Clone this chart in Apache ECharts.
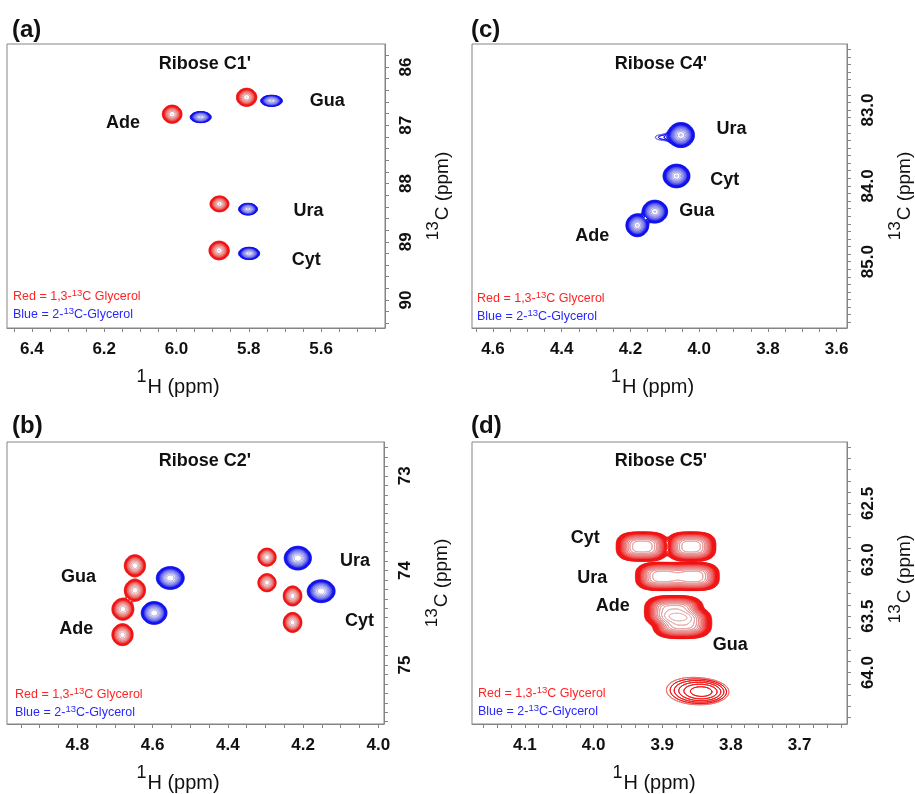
<!DOCTYPE html>
<html><head><meta charset="utf-8">
<script src="https://cdn.jsdelivr.net/npm/echarts@6/dist/echarts.min.js"></script>
<style>html,body{margin:0;padding:0;background:#fff}#chart{width:915px;height:794px}</style>
</head><body><div id="chart"></div>
<script>
// ================= DATA (chemical shifts in ppm) =================
// ---- Panel (a): Ribose C1' ----
const aBaseLabels = ['Ade', 'Gua', 'Ura', 'Cyt'];
const aLabelH = [6.148, 5.583, 5.635, 5.641];
const aLabelC = [86.96, 86.58, 88.47, 89.31];
const aRedH   = [6.012, 5.806, 5.881, 5.882];
const aRedC   = [86.81, 86.52, 88.35, 89.15];
const aRedWH  = [0.054, 0.056, 0.052, 0.056];   // outer-contour width, 1H ppm
const aRedWC  = [0.31, 0.31, 0.27, 0.32];       // outer-contour width, 13C ppm
const aBlueH  = [5.933, 5.737, 5.802, 5.799];
const aBlueC  = [86.86, 86.58, 88.44, 89.20];
const aBlueWH = [0.058, 0.060, 0.052, 0.058];
const aBlueWC = [0.19, 0.19, 0.20, 0.21];
const aXTicks = [6.4, 6.2, 6.0, 5.8, 5.6];
const aYTicks = [86, 87, 88, 89, 90];

// ---- Panel (b): Ribose C2' ----
const bBaseLabels = ['Gua', 'Ade', 'Ura', 'Cyt'];
const bLabelH = [4.797, 4.803, 4.062, 4.050];
const bLabelC = [74.07, 74.62, 73.90, 74.53];
const bRedH   = [4.647, 4.647, 4.679, 4.680, 4.296, 4.296, 4.228, 4.228];
const bRedC   = [73.95, 74.21, 74.41, 74.68, 73.86, 74.13, 74.27, 74.55];
const bRedWH  = [0.056, 0.056, 0.058, 0.056, 0.048, 0.048, 0.049, 0.049];
const bRedWC  = [0.23, 0.23, 0.23, 0.23, 0.19, 0.19, 0.21, 0.21];
const bBlueH  = [4.553, 4.596, 4.214, 4.152];
const bBlueC  = [74.08, 74.45, 73.87, 74.22];
const bBlueWH = [0.074, 0.068, 0.072, 0.074];
const bBlueWC = [0.24, 0.24, 0.25, 0.24];
const bXTicks = [4.8, 4.6, 4.4, 4.2, 4.0];
const bYTicks = [73, 74, 75];

// ---- Panel (c): Ribose C4' ----
const cBaseLabels = ['Ura', 'Cyt', 'Gua', 'Ade'];
const cLabelH = [3.906, 3.926, 4.007, 4.311];
const cLabelC = [83.25, 83.92, 84.33, 84.66];
const cBlueH  = [4.053, 4.066, 4.129, 4.180, 4.100];
const cBlueC  = [83.33, 83.87, 84.34, 84.52, 83.36];
const cBlueWH = [0.078, 0.078, 0.074, 0.066, 0.055];
const cBlueWC = [0.33, 0.31, 0.30, 0.30, 0.08];
const cBlueAmp = [40, 40, 40, 40, 1.6];
const cXTicks = [4.6, 4.4, 4.2, 4.0, 3.8, 3.6];
const cYTicks = [83.0, 84.0, 85.0];

// ---- Panel (d): Ribose C5' ----
const dBaseLabels = ['Cyt', 'Ura', 'Ade', 'Gua'];
const dLabelH = [4.012, 4.002, 3.972, 3.801];
const dLabelC = [62.806, 63.162, 63.413, 63.757];
const dRedH   = [3.929, 3.858, 3.899, 3.855, 3.883, 3.871, 3.838, 3.866];
const dRedC   = [62.883, 62.883, 63.148, 63.148, 63.457, 63.559, 64.172, 64.150];
const dRedWH  = [0.076, 0.072, 0.080, 0.076, 0.086, 0.086, 0.068, 0.050];
const dRedWC  = [0.26, 0.26, 0.25, 0.25, 0.28, 0.28, 0.20, 0.17];
const dRedAmp = [110, 110, 110, 110, 110, 110, 3.6, 1.6];
const dRedShape = [3, 3, 3, 3, 3, 3, 2, 2];     // peak-shape exponent (2 = Gaussian)
const dXTicks = [4.1, 4.0, 3.9, 3.8, 3.7];
const dYTicks = [62.5, 63.0, 63.5, 64.0];

const panelTitles = ["Ribose C1'", "Ribose C4'", "Ribose C2'", "Ribose C5'"];
const panelLetters = ['(a)', '(c)', '(b)', '(d)'];

// ================= STYLE / LAYOUT =================
const FONT = "'Liberation Sans', Arial, Helvetica, sans-serif";
const RED = '#f01414', RED_LIGHT = '#e4cccc';
const BLUE = '#1212ee', BLUE_LIGHT = '#cfcfe8';
const AXIS_GREY = '#858585';
const TXT = '#111111';
const LEVEL0 = 1, LEVEL_F = 1.3, N_LEVELS = 22;

const panels = [
  { key:'a', grid:{left:7,   top:44,  width:378, height:284}, x:[5.423, 6.469], y:[85.605, 90.48],
    xMinor:0.05, yMinor:0.2, xTicks:aXTicks, yTicks:aYTicks, xDec:1, yDec:0, shapeP:2,
    title:[205, 64], letter:[12, 18], legend:[13, 296], xNamePad:36, yNamePad:[0,20,0,0] },
  { key:'c', grid:{left:472, top:44,  width:377, height:284}, x:[3.570, 4.661], y:[82.129, 85.875],
    xMinor:0.05, yMinor:0.1, xTicks:cXTicks, yTicks:cYTicks, xDec:1, yDec:1, shapeP:2,
    title:[661, 64], letter:[471, 18], legend:[477, 298], xNamePad:14, yNamePad:[0,20,0,0] },
  { key:'b', grid:{left:7,   top:442, width:377, height:283}, x:[3.985, 4.987], y:[72.642, 75.624],
    xMinor:0.05, yMinor:0.1, xTicks:bXTicks, yTicks:bYTicks, xDec:1, yDec:0, shapeP:2,
    title:[205, 461], letter:[12, 414], legend:[15, 694], xNamePad:35, yNamePad:[0,0,0,0] },
  { key:'d', grid:{left:472, top:442, width:377, height:283}, x:[3.631, 4.177], y:[61.956, 64.456],
    xMinor:0.02, yMinor:0.1, xTicks:dXTicks, yTicks:dYTicks, xDec:1, yDec:1, shapeP:3,
    title:[661, 461], letter:[471, 414], legend:[478, 693], xNamePad:11, yNamePad:[0,0,0,8] }
];

// ================= PEAK LISTS (built from the arrays) =================
function peaks(H, C, WH, WC, amp, shape) {
  return H.map((h, i) => ({ h, c: C[i], wh: WH[i], wc: WC[i], a: Array.isArray(amp) ? amp[i] : amp,
                            p: shape ? shape[i] : null }));
}
const spectra = {
  a: [
    { color: RED, light: RED_LIGHT, list: peaks(aRedH, aRedC, aRedWH, aRedWC, 18) },
    { color: BLUE, light: BLUE_LIGHT, list: peaks(aBlueH, aBlueC, aBlueWH, aBlueWC, 24) }
  ],
  c: [ { color: BLUE, light: BLUE_LIGHT, list: peaks(cBlueH, cBlueC, cBlueWH, cBlueWC, cBlueAmp) } ],
  b: [
    { color: RED, light: RED_LIGHT, list: peaks(bRedH, bRedC, bRedWH, bRedWC, 22) },
    { color: BLUE, light: BLUE_LIGHT, list: peaks(bBlueH, bBlueC, bBlueWH, bBlueWC, 30) }
  ],
  d: [ { color: RED, light: RED_LIGHT, list: peaks(dRedH, dRedC, dRedWH, dRedWC, dRedAmp, dRedShape) } ]
};
const labels = {
  a: [aBaseLabels, aLabelH, aLabelC], b: [bBaseLabels, bLabelH, bLabelC],
  c: [cBaseLabels, cLabelH, cLabelC], d: [dBaseLabels, dLabelH, dLabelC]
};

// ================= CONTOURING (marching squares in ppm space) =================
function buildField(list, xr, yr, pDefault, nx, ny) {
  const F = new Float64Array(nx * ny);
  const dx = (xr[1] - xr[0]) / (nx - 1), dy = (yr[1] - yr[0]) / (ny - 1);
  list.forEach(pk => {
    const p = pk.p || pDefault;
    const r = Math.pow(Math.log(Math.max(1.05, pk.a / LEVEL0)), 1 / p);
    const sx = (pk.wh / 2) / r, sy = (pk.wc / 2) / r;
    const i0 = Math.max(0, Math.floor((pk.h - 4 * sx - xr[0]) / dx)), i1 = Math.min(nx - 1, Math.ceil((pk.h + 4 * sx - xr[0]) / dx));
    const j0 = Math.max(0, Math.floor((pk.c - 4 * sy - yr[0]) / dy)), j1 = Math.min(ny - 1, Math.ceil((pk.c + 4 * sy - yr[0]) / dy));
    for (let j = j0; j <= j1; j++) {
      const v = Math.pow(Math.abs((yr[0] + j * dy - pk.c) / sy), p);
      for (let i = i0; i <= i1; i++) {
        const u = Math.pow(Math.abs((xr[0] + i * dx - pk.h) / sx), p);
        F[j * nx + i] += pk.a * Math.exp(-(u + v));
      }
    }
  });
  return { F, dx, dy };
}
function march(F, nx, ny, x0, dx, y0, dy, L) {
  const out = [];
  for (let j = 0; j < ny - 1; j++) {
    const r0 = j * nx, r1 = r0 + nx, yj = y0 + j * dy, yj1 = yj + dy;
    for (let i = 0; i < nx - 1; i++) {
      const a = F[r0 + i], b = F[r0 + i + 1], c = F[r1 + i + 1], d = F[r1 + i];
      let idx = 0;
      if (a >= L) idx |= 1; if (b >= L) idx |= 2; if (c >= L) idx |= 4; if (d >= L) idx |= 8;
      if (idx === 0 || idx === 15) continue;
      const xi = x0 + i * dx, xi1 = xi + dx;
      const E = e => e === 0 ? [xi + (L - a) / (b - a) * dx, yj]
                  : e === 1 ? [xi1, yj + (L - b) / (c - b) * dy]
                  : e === 2 ? [xi + (L - d) / (c - d) * dx, yj1]
                  : [xi, yj + (L - a) / (d - a) * dy];
      const seg = (e1, e2) => { const P = E(e1), Q = E(e2); out.push(P[0], P[1], Q[0], Q[1]); };
      switch (idx) {
        case 1: case 14: seg(3, 0); break;
        case 2: case 13: seg(0, 1); break;
        case 3: case 12: seg(3, 1); break;
        case 4: case 11: seg(1, 2); break;
        case 6: case 9: seg(0, 2); break;
        case 7: case 8: seg(3, 2); break;
        case 5: { const m = (a + b + c + d) / 4; if (m >= L) { seg(0, 1); seg(2, 3); } else { seg(3, 0); seg(1, 2); } break; }
        case 10: { const m = (a + b + c + d) / 4; if (m >= L) { seg(3, 0); seg(1, 2); } else { seg(0, 1); seg(2, 3); } break; }
      }
    }
  }
  return out;
}
function hex2rgb(h) { return [1, 3, 5].map(i => parseInt(h.substr(i, 2), 16)); }
function mix(c1, c2, t) {
  const A = hex2rgb(c1), B = hex2rgb(c2);
  return 'rgb(' + A.map((v, i) => Math.round(v + (B[i] - v) * t)).join(',') + ')';
}
function levelColor(base, light, k, kmax) {
  let m;
  if (k === 0) m = 0.5;
  else {
    const t = k / Math.max(1, kmax);
    m = t < 0.4 ? 0 : Math.min(0.9, Math.pow((t - 0.4) / 0.6, 0.7) * 0.9);
  }
  return mix(base, light, m);
}

function contourSeries(pi, panel, spec) {
  const nx = 520, ny = 420;
  const { F, dx, dy } = buildField(spec.list, panel.x, panel.y, panel.shapeP, nx, ny);
  let fmax = 0; for (let q = 0; q < F.length; q++) if (F[q] > fmax) fmax = F[q];
  const kmax = Math.floor(Math.log(fmax / LEVEL0) / Math.log(LEVEL_F));
  const store = {}, data = [];
  for (let k = 0; k < N_LEVELS; k++) {
    const L = LEVEL0 * Math.pow(LEVEL_F, k);
    if (L > fmax) break;
    const segs = march(F, nx, ny, panel.x[0], dx, panel.y[0], dy, L);
    if (!segs.length) continue;
    store[k] = segs;
    data.push([segs[0], segs[1], k]);
  }
  return {
    type: 'custom', xAxisIndex: pi, yAxisIndex: pi, clip: true, silent: true, z: 3,
    dimensions: ['H', 'C', 'level'], encode: { x: 0, y: 1 }, data,
    renderItem: function (params, api) {
      const k = api.value(2), segs = store[k];
      let d = '';
      for (let s = 0; s < segs.length; s += 4) {
        const P = api.coord([segs[s], segs[s + 1]]), Q = api.coord([segs[s + 2], segs[s + 3]]);
        d += 'M' + P[0].toFixed(2) + ' ' + P[1].toFixed(2) + 'L' + Q[0].toFixed(2) + ' ' + Q[1].toFixed(2);
      }
      return { type: 'path', shape: { pathData: d },
               style: { fill: 'none', stroke: levelColor(spec.color, spec.light, k, kmax), lineWidth: 0.9, lineCap: 'round' } };
    }
  };
}

function minorTicks(range, step) {
  const out = [];
  for (let v = Math.ceil(range[0] / step - 1e-9) * step; v <= range[1] + 1e-9; v += step) out.push(Math.round(v * 1000) / 1000);
  return out;
}

// ================= OPTION =================
const grids = [], xAxes = [], yAxes = [], series = [], graphics = [];
panels.forEach((P, pi) => {
  grids.push(Object.assign({ show: true, borderColor: AXIS_GREY, borderWidth: 1, backgroundColor: '#fff', containLabel: false }, P.grid));
  xAxes.push({
    type: 'value', gridIndex: pi, inverse: true, min: P.x[0], max: P.x[1], position: 'bottom',
    axisLine: { show: true, onZero: false, lineStyle: { color: AXIS_GREY, width: 1 } },
    axisTick: { show: true, length: 4, customValues: minorTicks(P.x, P.xMinor), lineStyle: { color: AXIS_GREY } },
    axisLabel: { customValues: P.xTicks, margin: 13, fontSize: 17, fontWeight: 'bold', color: TXT, fontFamily: FONT,
                 formatter: v => Number(v).toFixed(P.xDec) },
    splitLine: { show: false },
    name: '{s|1}{n|H (ppm)}', nameLocation: 'middle', nameGap: 40,
    nameTextStyle: { padding: [0, P.xNamePad, 0, 0], rich: {
      s: { fontSize: 18, fontFamily: FONT, color: TXT, verticalAlign: 'bottom', padding: [0, 1, 11, 0] },
      n: { fontSize: 20, fontFamily: FONT, color: TXT, verticalAlign: 'bottom' } } }
  });
  yAxes.push({
    type: 'value', gridIndex: pi, inverse: true, min: P.y[0], max: P.y[1], position: 'right',
    axisLine: { show: true, onZero: false, lineStyle: { color: AXIS_GREY, width: 1 } },
    axisTick: { show: true, length: 4, customValues: minorTicks(P.y, P.yMinor), lineStyle: { color: AXIS_GREY } },
    axisLabel: { customValues: P.yTicks, rotate: 90, margin: 13, fontSize: 17, fontWeight: 'bold', color: TXT, fontFamily: FONT,
                 formatter: v => Number(v).toFixed(P.yDec) },
    splitLine: { show: false },
    name: '{s|13}{n|C (ppm)}', nameLocation: 'middle', nameRotate: 90, nameGap: 40,
    nameTextStyle: { padding: P.yNamePad, rich: {
      s: { fontSize: 17, fontFamily: FONT, color: TXT, verticalAlign: 'bottom', padding: [0, 1, 10, 0] },
      n: { fontSize: 19, fontFamily: FONT, color: TXT, verticalAlign: 'bottom' } } }
  });
  spectra[P.key].forEach(spec => series.push(contourSeries(pi, P, spec)));
  const [names, LH, LC] = labels[P.key];
  series.push({
    type: 'scatter', xAxisIndex: pi, yAxisIndex: pi, symbolSize: 1, silent: true, z: 5,
    itemStyle: { color: 'rgba(0,0,0,0)', opacity: 1 },
    label: { show: true, position: 'inside', formatter: '{b}', fontSize: 18, fontWeight: 'bold', color: TXT, opacity: 1, fontFamily: FONT },
    data: names.map((n, i) => ({ name: n, value: [LH[i], LC[i]] }))
  });
  graphics.push({ type: 'text', x: P.title[0], y: P.title[1], z: 10,
    style: { text: panelTitles[pi], align: 'center', verticalAlign: 'middle', fontSize: 18, fontWeight: 'bold', fontFamily: FONT, fill: TXT } });
  graphics.push({ type: 'text', x: P.letter[0], y: P.letter[1], z: 10,
    style: { text: panelLetters[pi], align: 'left', verticalAlign: 'top', fontSize: 24, fontWeight: 'bold', fontFamily: FONT, fill: TXT } });
  graphics.push({ type: 'text', x: P.legend[0], y: P.legend[1], z: 10,
    style: { text: '{r|Red = 1,3-}{rs|13}{r|C Glycerol}', align: 'left', verticalAlign: 'middle',
      rich: { r: { fontSize: 12.5, fontFamily: FONT, fill: '#ff2424', verticalAlign: 'bottom' },
              rs: { fontSize: 9.5, fontFamily: FONT, fill: '#ff2424', verticalAlign: 'bottom', padding: [0, 0, 5, 0] } } } });
  graphics.push({ type: 'text', x: P.legend[0], y: P.legend[1] + 18, z: 10,
    style: { text: '{b|Blue = 2-}{bs|13}{b|C-Glycerol}', align: 'left', verticalAlign: 'middle',
      rich: { b: { fontSize: 12.5, fontFamily: FONT, fill: '#2828ff', verticalAlign: 'bottom' },
              bs: { fontSize: 9.5, fontFamily: FONT, fill: '#2828ff', verticalAlign: 'bottom', padding: [0, 0, 5, 0] } } } });
});

const chart = echarts.init(document.getElementById('chart'), null, { renderer: 'canvas' });
chart.setOption({
  animation: false, backgroundColor: '#ffffff',
  grid: grids, xAxis: xAxes, yAxis: yAxes, series, graphic: graphics
});
</script></body></html>
